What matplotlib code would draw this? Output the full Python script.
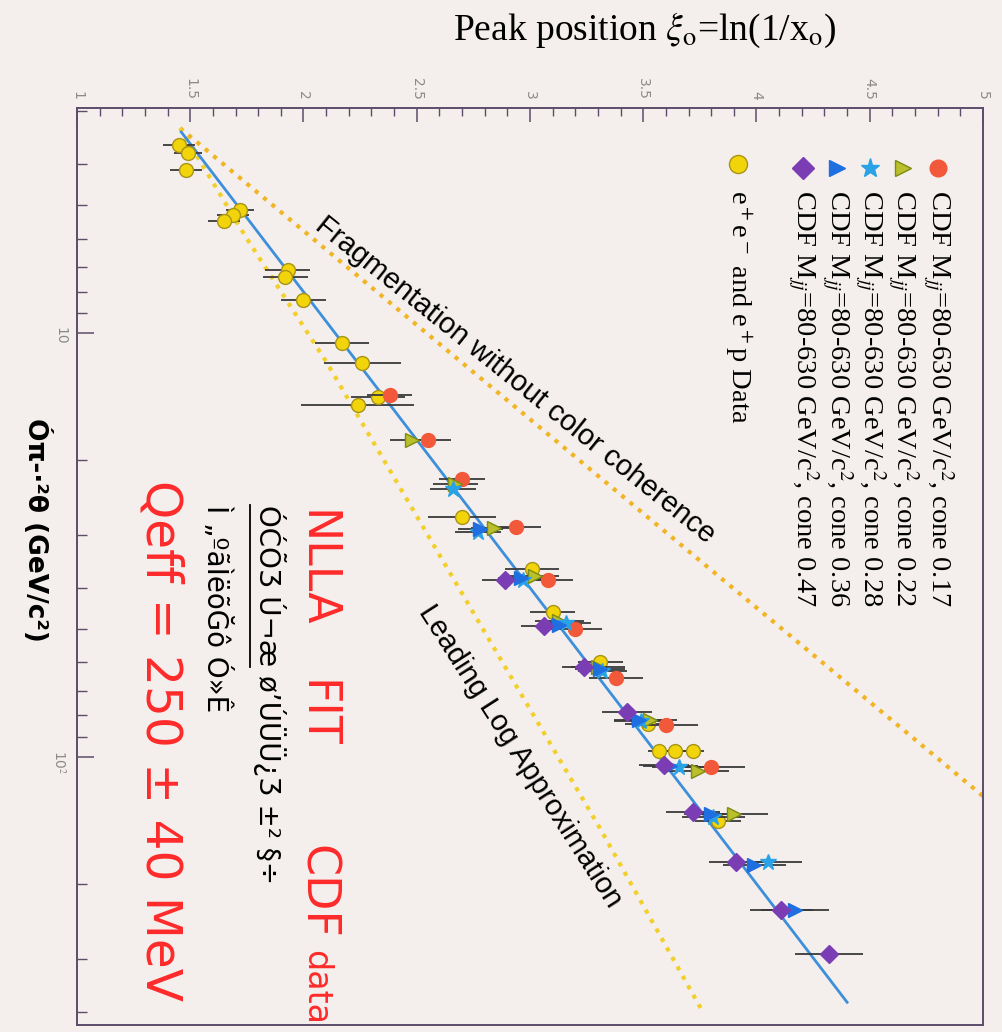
import numpy as np
import matplotlib
matplotlib.use("Agg")
import matplotlib.pyplot as plt
from matplotlib.lines import Line2D
from matplotlib.ticker import LogLocator, NullFormatter

plt.rcParams['mathtext.fontset'] = 'stix'

# ── data: Q·θ (GeV/c²) vs peak position ξ0 ─────────────────────────────────
ee_q   = [3.6, 3.76, 4.13, 5.13, 5.27, 5.44, 7.1, 7.4, 8.36, 10.6, 11.8, 14.2, 14.8,
          27.2, 36.2, 45.7, 60.0, 84.0, 97.0, 97.0, 97.0, 142]
ee_xi  = [1.45, 1.49, 1.48, 1.72, 1.69, 1.65, 1.93, 1.92, 2.00, 2.17, 2.26, 2.33, 2.24,
          2.70, 3.01, 3.10, 3.31, 3.52, 3.57, 3.64, 3.72, 3.83]
ee_err = [0.07, 0.06, 0.07, 0.06, 0.07, 0.07, 0.10, 0.10, 0.10, 0.12, 0.17, 0.12, 0.25,
          0.15, 0.12, 0.10, 0.10, 0.10, 0.05, 0.05, 0.05, 0.10]

c17_q  = [14.0, 17.9, 22.2, 28.7, 38.3, 50.1, 65.2, 84.1, 106]
c17_xi = [2.38, 2.55, 2.70, 2.94, 3.08, 3.20, 3.38, 3.60, 3.80]
c22_q  = [17.9, 22.8, 28.9, 37.5, 48.0, 61.6, 82.0, 108, 137]
c22_xi = [2.48, 2.67, 2.84, 3.02, 3.13, 3.30, 3.53, 3.74, 3.90]
c28_q  = [23.4, 29.6, 38.3, 48.3, 63.0, 82.6, 106, 139, 177]
c28_xi = [2.66, 2.77, 2.97, 3.16, 3.32, 3.49, 3.66, 3.81, 4.05]
c36_q  = [29.0, 38.0, 49.0, 62.0, 82.0, 105, 137, 180, 230]
c36_xi = [2.78, 2.96, 3.13, 3.31, 3.48, 3.62, 3.80, 3.99, 4.17]
c47_q  = [38.3, 49.3, 61.6, 78.7, 104.5, 135.5, 177, 230, 293]
c47_xi = [2.89, 3.06, 3.24, 3.43, 3.59, 3.72, 3.91, 4.11, 4.32]
cdf_err = [0.10, 0.10, 0.10, 0.11, 0.11, 0.12, 0.12, 0.14, 0.15]

fit_q   = [3.36, 380]
fit_xi  = [1.46, 4.40]
frag_q  = [3.29, 124]
frag_xi = [1.455, 5.0]
lla_q   = [3.29, 6.0, 11.7, 23.4, 58.9, 148, 398]
lla_xi  = [1.455, 1.75, 2.10, 2.43, 2.87, 3.31, 3.76]

xi_ticks = [1, 1.5, 2, 2.5, 3, 3.5, 4, 4.5, 5]
xi_labels = ["1", "1.5", "2", "2.5", "3", "3.5", "4", "4.5", "5"]

legend_labels = [
    r"CDF M$_{jj}$=80-630 GeV/c$^2$, cone 0.17",
    r"CDF M$_{jj}$=80-630 GeV/c$^2$, cone 0.22",
    r"CDF M$_{jj}$=80-630 GeV/c$^2$, cone 0.28",
    r"CDF M$_{jj}$=80-630 GeV/c$^2$, cone 0.36",
    r"CDF M$_{jj}$=80-630 GeV/c$^2$, cone 0.47",
    r"e$^+$e$^-$ and e$^+$p Data",
]

W, H = 1002, 1032
def fx(x):
    return x / W
def fy(y):
    return 1 - y / H

BG = "#f4efec"
fig = plt.figure(figsize=(W / 100, H / 100), dpi=100, facecolor=BG)
ax = fig.add_axes([fx(77), fy(1025), (983 - 77) / W, (1025 - 108) / H])
ax.set_facecolor(BG)

# picture is turned a quarter turn: ξ runs left→right, Q·θ runs downwards
ax.set_xlim(1, 5)
ax.set_yscale("log")
ax.set_ylim(430, 2.95)

ax.plot(frag_xi, frag_q, color="#f0b424", lw=3, ls=(0, (1, 1.6)), zorder=1)
ax.plot(lla_xi, lla_q, color="#f2cf2a", lw=3, ls=(0, (1, 1.6)), zorder=1)
ax.plot(fit_xi, fit_q, color="#3d8fdc", lw=2, zorder=2)

SERIES = [
    (c17_q, c17_xi, "o", "#f2583a", "#f2583a", 10),
    (c22_q, c22_xi, ">", "#b9c02c", "#7d8c12", 10),
    (c28_q, c28_xi, "*", "#2aa2e6", "#2aa2e6", 12),
    (c36_q, c36_xi, ">", "#1f6fe0", "#1f6fe0", 10),
    (c47_q, c47_xi, "D", "#7a3db4", "#7a3db4", 9),
]

ax.errorbar(ee_xi, ee_q, xerr=ee_err, fmt="o", color="#f2d40a", mec="#a89418",
            mew=1.0, ms=10, ecolor="#3a3a3a", elinewidth=1.3, capsize=0, zorder=3)
for q, xi, m, fc, ec, ms in SERIES:
    ax.errorbar(xi, q, xerr=cdf_err, fmt=m, color=fc, mec=ec, mew=1.0, ms=ms,
                ecolor="#3a3a3a", elinewidth=1.3, capsize=0, zorder=4)

# axes decoration
for s in ax.spines.values():
    s.set_color("#5b4d6b")
    s.set_linewidth(1.4)
ax.xaxis.tick_top()
ax.set_xticks(xi_ticks)
ax.set_xticklabels(xi_labels)
ax.set_xticks(np.arange(1, 5.001, 0.1), minor=True)
ax.tick_params(axis="x", which="both", direction="in", top=True, bottom=False,
               labeltop=True, labelbottom=False, labelrotation=-90,
               labelsize=10, labelcolor="#8a8a8a", color="#5b4d6b", pad=6)
ax.tick_params(axis="x", which="major", length=10, width=1.1)
ax.tick_params(axis="x", which="minor", length=6, width=1.0)

ax.set_yticks([10, 100])
ax.set_yticklabels(["10", r"10$^2$"])
ax.yaxis.set_minor_locator(LogLocator(base=10, subs=np.arange(2, 10)))
ax.yaxis.set_minor_formatter(NullFormatter())
ax.tick_params(axis="y", which="both", direction="in", left=True, right=False,
               labelrotation=-90, labelsize=10, labelcolor="#8a8a8a",
               color="#5b4d6b", pad=7)
ax.tick_params(axis="y", which="major", length=12, width=1.1)
ax.tick_params(axis="y", which="minor", length=7, width=1.0)

# axis titles
fig.text(fx(645), fy(30), r"Peak position $\xi_\mathrm{o}$=ln(1/x$_\mathrm{o}$)",
         family="Liberation Serif", fontsize=27, ha="center", va="center")
fig.text(fx(36), fy(418), "Óπ-·²θ (GeV/c²)", family="DejaVu Sans",
         fontsize=19, fontweight="bold", rotation=-90, ha="center", va="top")

# hand-made legend (turned like the rest of the picture)
leg_x = [938, 903, 870, 837, 803, 738]
for (q, xi, m, fc, ec, ms), x in zip(SERIES, leg_x):
    fig.add_artist(Line2D([fx(x)], [fy(168)], marker=m, color=fc, mec=ec,
                          mew=1.0, ms=ms + 2, ls="none"))
fig.add_artist(Line2D([fx(leg_x[5])], [fy(164)], marker="o", color="#f2d40a",
                      mec="#a89418", ms=13, ls="none"))
for lab, x in zip(legend_labels, leg_x):
    fig.text(fx(x), fy(190), lab, family="Liberation Serif", fontsize=20.5,
             rotation=-90, ha="center", va="top")

# curve labels
fig.text(fx(515), fy(380), "Fragmentation without color coherence",
         family="Liberation Sans", fontsize=21, rotation=-38.8,
         rotation_mode="anchor", ha="center", va="center")
fig.text(fx(520), fy(756), "Leading Log Approximation",
         family="Liberation Sans", fontsize=21, rotation=-57.3,
         rotation_mode="anchor", ha="center", va="center")

# notes written on the page
red = "#ff2a2a"
for word, y, size in zip(["NLLA", "FIT", "CDF", "data"], [510, 680, 845, 950],
                         [33, 33, 33, 24]):
    fig.text(fx(316), fy(y), word, family="DejaVu Sans", fontsize=size,
             color=red, rotation=-90, ha="center", va="top")
fig.text(fx(160), fy(480), "Qeff = 250 ± 40 MeV", family="DejaVu Sans",
         fontsize=35, color=red, rotation=-90, ha="center", va="top")
fig.text(fx(269), fy(505), "ÓĆÕƷ Ú¬æ øʼÚÜÜ¿Ʒ ±² §÷", family="DejaVu Sans",
         fontsize=20, rotation=-90, ha="center", va="top")
fig.add_artist(Line2D([fx(250), fx(250)], [fy(505), fy(667)], color="black", lw=1.3))
fig.text(fx(216), fy(505), "Ì „ºãÌëõĞô Ó»Ê", family="DejaVu Sans",
         fontsize=20, rotation=-90, ha="center", va="top")

fig.savefig("out.png", dpi=100, facecolor=BG)
